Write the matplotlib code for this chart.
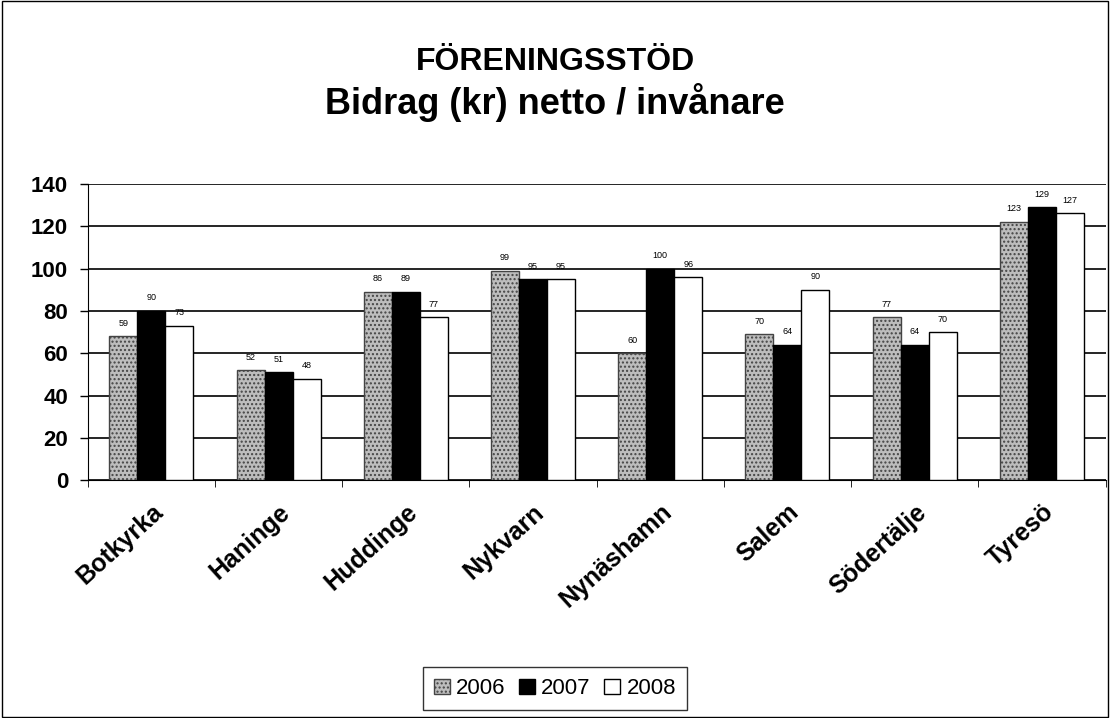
import matplotlib
matplotlib.use("Agg")
import matplotlib.pyplot as plt
import matplotlib.transforms as mtransforms
import numpy as np

plt.rcParams['font.family'] = ['Liberation Sans', 'DejaVu Sans']

categories = ["Botkyrka", "Haninge", "Huddinge", "Nykvarn", "Nynäshamn", "Salem", "Södertälje", "Tyresö"]
years = ["2006", "2007", "2008"]
v2006 = [68, 52, 89, 99, 60, 69, 77, 122]
v2007 = [80, 51, 89, 95, 100, 64, 64, 129]
v2008 = [73, 48, 77, 95, 96, 90, 70, 126]
lbl2006 = ["59", "52", "86", "99", "60", "70", "77", "123"]
lbl2007 = ["90", "51", "89", "95", "100", "64", "64", "129"]
lbl2008 = ["73", "48", "77", "95", "96", "90", "70", "127"]
yticks = [0, 20, 40, 60, 80, 100, 120, 140]

fig = plt.figure(figsize=(11.10, 7.18), dpi=100)
ax = fig.add_axes([0.079, 0.331, 0.917, 0.413])
x = np.arange(len(categories))
w = 0.22
series = [v2006, v2007, v2008]
labels = [lbl2006, lbl2007, lbl2008]
styles = [dict(color="#bdbdbd", hatch="....", edgecolor="#444444"),
          dict(color="black", edgecolor="black"),
          dict(color="white", edgecolor="black")]
for i, (vals, lbs, st) in enumerate(zip(series, labels, styles)):
    bars = ax.bar(x + (i - 1) * w, vals, w, label=years[i], linewidth=1, zorder=3, **st)
    for b, t in zip(bars, lbs):
        ax.text(b.get_x() + b.get_width() / 2, b.get_height() + 4, t, ha="center", va="bottom",
                fontsize=6.5)
ax.set_ylim(0, 140)
ax.set_xlim(-0.5, len(categories) - 0.5)
ax.set_yticks(yticks)
ax.tick_params(axis="y", labelsize=16, direction="out", length=6, width=1, pad=8)
for lab in ax.get_yticklabels():
    lab.set_fontweight("bold")
ax.yaxis.grid(True, color="black", linewidth=1.2, zorder=0)
ax.set_xticks(x)
ax.set_xticklabels(categories, rotation=42, ha="right", rotation_mode="anchor", fontsize=18, fontweight="bold")
offset = mtransforms.ScaledTranslation(18 / 100, 0, fig.dpi_scale_trans)
for lab in ax.get_xticklabels():
    lab.set_transform(lab.get_transform() + offset)
ax.tick_params(axis="x", which="major", length=0, pad=14)
ax.set_xticks(np.arange(-0.5, len(categories), 1.0), minor=True)
ax.tick_params(axis="x", which="minor", length=5, direction="out")
for s in ["top", "right"]:
    ax.spines[s].set_visible(False)
fig.text(0.5, 0.914, "FÖRENINGSSTÖD", ha="center", va="center", fontsize=23, fontweight="bold")
fig.text(0.5, 0.857, "Bidrag (kr) netto / invånare", ha="center", va="center", fontsize=26, fontweight="bold")
leg = fig.legend(loc="lower center", bbox_to_anchor=(0.5, -0.005), ncol=3, frameon=True, fancybox=False,
                 edgecolor="black", fontsize=16, handlelength=0.7, handleheight=0.7, handletextpad=0.3,
                 columnspacing=0.6, borderpad=0.5)
leg.get_frame().set_linewidth(1)
fig.patches.append(plt.Rectangle((0.002, 0.002), 0.996, 0.996, transform=fig.transFigure, fill=False,
                                 edgecolor="black", linewidth=1))
fig.savefig("out.png", dpi=100)
